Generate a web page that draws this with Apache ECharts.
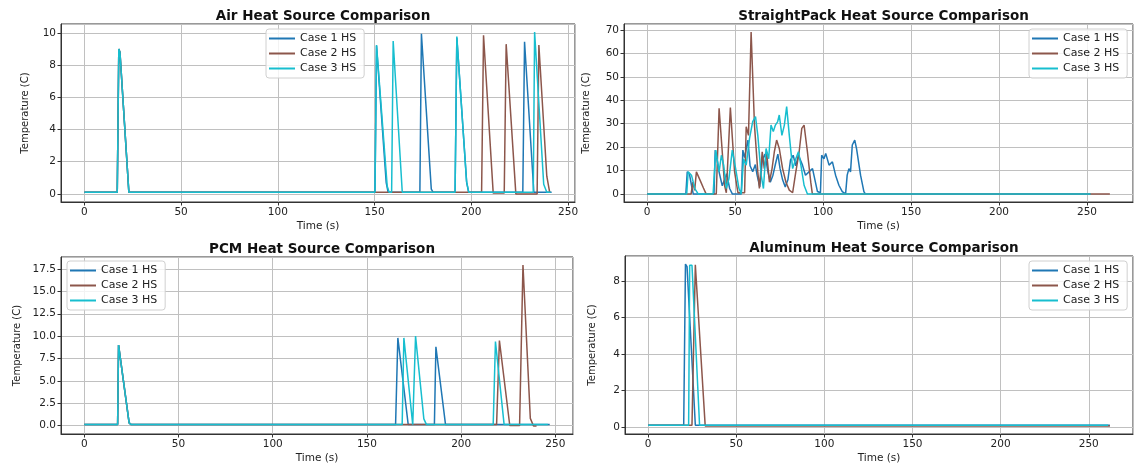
<!DOCTYPE html>
<html>
<head>
<meta charset="utf-8">
<title>Heat Source Comparison</title>
<script src="https://cdn.jsdelivr.net/npm/echarts@6/dist/echarts.min.js"></script>
<style>
    html, body { margin: 0; padding: 0; background: #fff; }
    #main { width: 1134px; height: 470px; }
</style>
</head>
<body>
<div id="main"></div>
<script>
"use strict";

// series names / legend
var caseNames = ["Case 1 HS", "Case 2 HS", "Case 3 HS"];
var caseColors = ["#1f77b4", "#8c564b", "#17becf"];
var panelTitles = ["Air Heat Source Comparison", "StraightPack Heat Source Comparison",
    "PCM Heat Source Comparison", "Aluminum Heat Source Comparison"];

// [time (s), temperature (C)]
var airCase1 = [[0, 0.1], [17, 0.1], [17.8, 9.0], [18.4, 8.8], [23, 0.1], [150.2, 0.1], [151, 9.2], [156, 0.7], [157, 0.1],
    [173.4, 0.1], [174.2, 9.95], [179.3, 0.3], [180.3, 0.1], [191.6, 0.1], [192.5, 9.7], [197.6, 0.7], [198.6, 0.1],
    [226.6, 0.1], [227.5, 9.45], [232.3, 0.1], [241.5, 0.1]];
var airCase2 = [[0, 0.1], [17, 0.1], [17.8, 9.0], [18.4, 8.8], [23, 0.1], [205.3, 0.1], [206.3, 9.85], [211.3, 0.05],
    [217, 0.05], [218, 9.3], [223, 0.0], [234, 0.0], [234.9, 9.25], [239, 1.1], [240.5, 0.1]];
var airCase3 = [[0, 0.1], [17, 0.1], [17.8, 9.0], [18.4, 8.8], [23, 0.1], [150.2, 0.1], [151, 9.25], [156.5, 0.5], [157.5, 0.1],
    [158.8, 0.1], [159.6, 9.5], [164.3, 0.1], [191.6, 0.1], [192.5, 9.77], [197.5, 0.8], [198.7, 0.1],
    [232, 0.1], [232.7, 10.05], [237.4, 0.6], [239, 0.1], [241, 0.1]];

var spCase1 = [[0, 0], [22, 0], [22.8, 9.4], [24, 8.7], [25.2, 3.7], [26.2, 0], [38, 0], [38.7, 18.7], [39.7, 15], [41, 9],
    [42.7, 3.5], [44, 6], [45.2, 8.6], [46.9, 2.3], [48.4, 0], [53.5, 0], [54.4, 18.7], [55.4, 15.5], [56.5, 20], [57.3, 23],
    [58.5, 12], [60, 9.5], [61.5, 12.5], [62.5, 8], [64, 3], [65.5, 14.5], [67, 17], [68.5, 10], [70, 5], [71.5, 8], [73, 13],
    [74.3, 17], [75.5, 11], [77, 6], [78.5, 3], [80, 6], [81.5, 14.5], [83, 16.5], [84.5, 12], [86, 16.5], [88.3, 12.3],
    [90, 8], [92, 9.4], [94, 10.8], [96.8, 1], [98.5, 0.5], [99.2, 16.5], [100.5, 15], [101.5, 17.3], [103.4, 12.3],
    [105.3, 13.7], [107.1, 8], [109, 3.7], [110.9, 1], [112.8, 0], [113.7, 8], [114.7, 10.8], [115.6, 9.4], [116.6, 20.9],
    [118, 23], [119, 19.4], [121.3, 8], [123.2, 1], [124, 0], [252, 0]];
var spCase2 = [[0, 0], [25, 0], [26, 5], [27, 1.5], [28, 9.4], [30, 6], [32, 2.5], [33.5, 0], [39.3, 0], [40.9, 36.6],
    [42.5, 20], [44, 3.7], [45, 0.5], [47.3, 36.9], [49.7, 9.4], [51.6, 0.5], [55.4, 0.5], [56.3, 28.7], [57.6, 25],
    [59.1, 69.1], [61, 29.4], [62.9, 9.4], [63.8, 2.3], [65.4, 18], [66.6, 10.8], [67.9, 18], [69.5, 5], [71, 10.8],
    [72.3, 18], [73.6, 23], [75.1, 19.4], [77, 10.8], [78.9, 5], [80.8, 1.6], [82.7, 0.5], [84.5, 9.4], [86.4, 18],
    [87.9, 28], [89.2, 29.4], [91.1, 18], [93, 5], [93.9, 0], [263, 0]];
var spCase3 = [[0, 0], [22.5, 0], [23.3, 9.4], [25.2, 8], [27.1, 2.3], [29, 0], [37.5, 0], [39, 18.7], [40.9, 9.4],
    [42.2, 16.5], [43.5, 12.3], [45, 2.3], [46.5, 6.6], [48.4, 18.7], [50.3, 10.8], [52.2, 2.3], [53.5, 0], [54.8, 15],
    [56.3, 12.3], [58.2, 23.7], [60, 30.9], [61.6, 33], [62.9, 25], [64.8, 8], [66.1, 2.3], [67.6, 19.4], [69.1, 15],
    [70.4, 29.4], [71.7, 26.6], [72.9, 29.4], [74.2, 30.9], [75.1, 33.7], [76.6, 25], [78, 29.4], [79.3, 37.3], [80.8, 25],
    [82.7, 10.8], [84.5, 15], [86, 18], [87.4, 12.3], [89.2, 3.7], [91.1, 0], [252, 0]];

var pcmCase1 = [[0, 0.1], [17.7, 0.1], [18.2, 9.0], [19.1, 8.8], [23.8, 0.3], [24.9, 0.1], [165.2, 0.1], [166.4, 9.8],
    [171.9, 0.1], [185.8, 0.1], [186.6, 8.8], [187.3, 8.8], [191.7, 0.1], [247, 0.1]];
var pcmCase2 = [[0, 0.1], [17.7, 0.1], [18.2, 9.0], [19.1, 8.8], [23.8, 0.3], [24.9, 0.1], [218.8, 0.1], [220.3, 9.5],
    [225.8, 0.0], [231, 0.0], [232.8, 17.95], [236.7, 0.8], [238.4, -0.05], [240, -0.05]];
var pcmCase3 = [[0, 0.1], [17.7, 0.1], [18.2, 9.0], [19.1, 8.8], [23.8, 0.3], [24.9, 0.1], [168.7, 0.1], [169.6, 9.8],
    [174.3, 0.1], [174.8, 0.1], [175.8, 10.0], [180.2, 0.74], [181.6, 0.1], [217, 0.1], [218.2, 9.4], [222.8, 0.1], [246, 0.1]];

var alCase1 = [[0, 0.09], [20.2, 0.09], [21.2, 8.94], [22.1, 8.8], [26.8, 0.09], [262, 0.09]];
var alCase2 = [[0, 0.09], [24.9, 0.09], [26.8, 8.9], [32.4, 0.05], [262, 0.05]];
var alCase3 = [[0, 0.09], [23, 0.09], [23.6, 8.87], [24.9, 8.87], [29.2, 0.09], [261, 0.09]];

var panelData = [
    [airCase1, airCase2, airCase3],
    [spCase1, spCase2, spCase3],
    [pcmCase1, pcmCase2, pcmCase3],
    [alCase1, alCase2, alCase3]
];
var yTickStep = [2, 10, 2.5, 2];
var xTickStep = 50;

// layout (pixels)
var grids = [
    { left: 61, top: 24, width: 514, height: 178 },
    { left: 624, top: 24, width: 509, height: 178 },
    { left: 61, top: 257, width: 512, height: 177 },
    { left: 625, top: 256, width: 508, height: 178 }
];
var legendPos = [[266, 29], [1029, 29], [67, 261], [1029, 261]];
var yNameGap = [31, 33, 39, 28];

var FONT = "DejaVu Sans";
var TXT = "#222";

// matplotlib style 5% margins
function limits(list, idx) {
    var lo = Infinity, hi = -Infinity;
    list.forEach(function(s) {
        s.forEach(function(p) {
            if (p[idx] < lo) lo = p[idx];
            if (p[idx] > hi) hi = p[idx];
        });
    });
    var pad = (hi - lo) * 0.05;
    return [lo - pad, hi + pad];
}

var option = {
    animation: false,
    backgroundColor: "#fff",
    title: [], grid: [], xAxis: [], yAxis: [], legend: [], series: []
};

panelData.forEach(function(list, i) {
    var g = grids[i];
    var xl = limits(list, 0), yl = limits(list, 1);

    option.grid.push({
        left: g.left, top: g.top, width: g.width, height: g.height,
        show: true, borderColor: "#333", borderWidth: 1, backgroundColor: "transparent"
    });
    option.title.push({
        text: panelTitles[i],
        left: g.left + g.width / 2,
        top: g.top - 20,
        textAlign: "center",
        textStyle: { fontFamily: FONT, fontSize: 13.5, fontWeight: "bold", color: "#111" }
    });
    // min/max are not round, so fix the step with min/maxInterval instead of interval
    option.xAxis.push({
        type: "value", gridIndex: i,
        min: xl[0], max: xl[1], minInterval: xTickStep, maxInterval: xTickStep,
        name: "Time (s)", nameLocation: "middle", nameGap: 19,
        nameTextStyle: { fontFamily: FONT, fontSize: 10.5, color: TXT },
        axisLine: { show: true, onZero: false, lineStyle: { color: "#333", width: 1 } },
        axisTick: { show: true, length: 3.5, lineStyle: { color: "#333" } },
        axisLabel: { fontFamily: FONT, fontSize: 10.5, color: TXT, margin: 5, showMinLabel: false, showMaxLabel: false },
        splitLine: { show: true, lineStyle: { color: "#c0c0c0", width: 1 } }
    });
    option.yAxis.push({
        type: "value", gridIndex: i,
        min: yl[0], max: yl[1], minInterval: yTickStep[i], maxInterval: yTickStep[i],
        name: "Temperature (C)", nameLocation: "middle", nameGap: yNameGap[i],
        nameTextStyle: { fontFamily: FONT, fontSize: 10, color: TXT },
        axisLine: { show: true, onZero: false, lineStyle: { color: "#333", width: 1 } },
        axisTick: { show: true, length: 3.5, lineStyle: { color: "#333" } },
        axisLabel: {
            fontFamily: FONT, fontSize: 10.5, color: TXT, margin: 5, showMinLabel: false, showMaxLabel: false,
            formatter: function(v) { return yTickStep[i] % 1 ? v.toFixed(1) : String(v); }
        },
        splitLine: { show: true, lineStyle: { color: "#c0c0c0", width: 1 } }
    });
    option.legend.push({
        data: caseNames.slice(),
        orient: "vertical",
        left: legendPos[i][0], top: legendPos[i][1],
        icon: "rect", itemWidth: 26, itemHeight: 2, itemGap: 2,
        padding: [3, 8, 3, 3],
        borderColor: "#d0d0d0", borderWidth: 1, borderRadius: 3,
        backgroundColor: "rgba(255,255,255,0.8)",
        textStyle: { fontFamily: FONT, fontSize: 11, color: TXT, lineHeight: 13 },
        selectedMode: false
    });
    list.forEach(function(d, k) {
        option.series.push({
            name: caseNames[k], type: "line",
            xAxisIndex: i, yAxisIndex: i,
            data: d, showSymbol: false, symbol: "none",
            color: caseColors[k],
            lineStyle: { width: 1.5, color: caseColors[k] },
            z: 2 + k
        });
    });
});

var myChart = echarts.init(document.getElementById("main"), null, { renderer: "canvas" });
myChart.setOption(option);
</script>
</body>
</html>
